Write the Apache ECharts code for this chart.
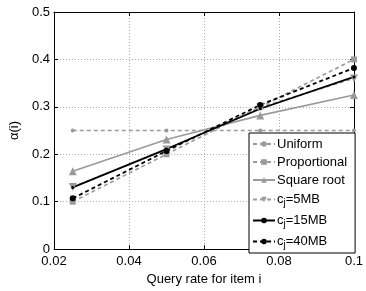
<!DOCTYPE html>
<html><head><meta charset="utf-8">
<script src="https://cdn.jsdelivr.net/npm/echarts@6/dist/echarts.min.js"></script>
<style>html,body{margin:0;padding:0;background:#fff}#c{width:366px;height:291px}</style>
</head><body><div id="c"></div>
<script>
var queryRates = [0.025, 0.05, 0.075, 0.1];
var uniform = [0.25, 0.25, 0.25, 0.25];
var proportional = [0.1, 0.2, 0.3, 0.4];
var squareRoot = [0.164, 0.231, 0.282, 0.325];
var c5MB = [0.131, 0.21, 0.299, 0.36];
var c15MB = [0.13, 0.211, 0.296, 0.363];
var c40MB = [0.107, 0.207, 0.304, 0.382];
var seriesNames = ['Uniform', 'Proportional', 'Square root', 'c_j=5MB', 'c_j=15MB', 'c_j=40MB'];

function pts(v){ return queryRates.map(function(x,i){ return [x, v[i]]; }); }
var GRAY = '#9a9a9a', FONT = 'Liberation Sans';
function mk(name, data, color, type, symbol, size, rot, width){
  return {name:name, type:'line', data:pts(data), symbol:symbol, symbolSize:size, symbolRotate:rot||0,
    showSymbol:true, lineStyle:{color:color, width:width||1.6, type:type}, itemStyle:{color:color}, z:3};
}
var chart = echarts.init(document.getElementById('c'));
var axisCommon = {
  axisLine:{show:true, onZero:false, lineStyle:{color:'#000', width:1}},
  axisTick:{show:true, inside:true, length:4, lineStyle:{color:'#000'}},
  axisLabel:{color:'#000', fontFamily:FONT, fontSize:13},
};
chart.setOption({
  animation:false,
  grid:{left:47, right:7, top:12, bottom:34},
  xAxis:[Object.assign({type:'value', min:0.02, max:0.1, interval:0.02, position:'bottom',
      name:'Query rate for item i', nameLocation:'middle', nameGap:19,
      nameTextStyle:{color:'#000', fontFamily:FONT, fontSize:13},
      splitLine:{show:true, lineStyle:{color:'#aaa', type:[1,2], width:1}}}, axisCommon,
      {axisLabel:{color:'#000', fontFamily:FONT, fontSize:13, margin:6, formatter:function(v){return String(+v.toFixed(2));}}}),
    Object.assign({type:'value', min:0.02, max:0.1, interval:0.02, position:'top', splitLine:{show:false}}, axisCommon, {axisLabel:{show:false}})],
  yAxis:[Object.assign({type:'value', min:0, max:0.5, interval:0.1, position:'left',
      name:'α(i)', nameLocation:'middle', nameGap:33,
      nameTextStyle:{color:'#000', fontFamily:FONT, fontSize:13},
      splitLine:{show:true, lineStyle:{color:'#aaa', type:[1,2], width:1}}}, axisCommon,
      {axisLabel:{color:'#000', fontFamily:FONT, fontSize:13, margin:4, formatter:function(v){return String(+v.toFixed(1));}}}),
    Object.assign({type:'value', min:0, max:0.5, interval:0.1, position:'right', splitLine:{show:false}}, axisCommon, {axisLabel:{show:false}})],
  legend:{orient:'vertical', left:249, top:133, itemWidth:22, itemHeight:7, itemGap:4,
    padding:[4,8,3,3], borderColor:'#000', borderWidth:1, backgroundColor:'#fff',
    data:seriesNames,
    formatter:function(n){ var m=n.match(/^c_j(.*)$/); return m ? 'c{sub|j}'+m[1] : n; },
    textStyle:{color:'#000', fontFamily:FONT, fontSize:13, lineHeight:14, padding:[0,0,0,-3],
      rich:{sub:{fontFamily:FONT, fontSize:10, lineHeight:14, padding:[7,0,0,0], color:'#000'}}}},
  series:[
    mk(seriesNames[0], uniform, GRAY, [4,3], 'circle', 4, 0),
    mk(seriesNames[1], proportional, GRAY, [4,3], 'rect', 6, 0),
    mk(seriesNames[2], squareRoot, GRAY, 'solid', 'triangle', 8, 0),
    mk(seriesNames[3], c5MB, GRAY, [4,3], 'triangle', 8, 180),
    mk(seriesNames[4], c15MB, '#000', 'solid', 'circle', 3, 0, 1.8),
    mk(seriesNames[5], c40MB, '#000', [4,3], 'circle', 6, 0, 1.8)
  ]
});
</script></body></html>
